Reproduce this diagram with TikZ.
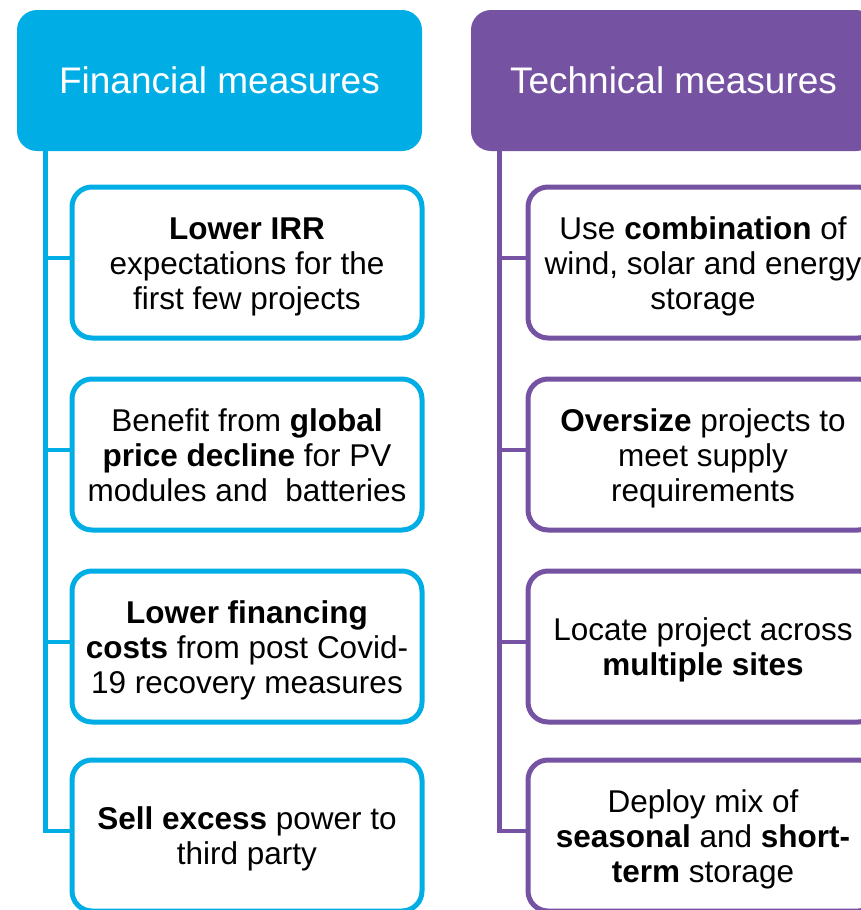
\documentclass[tikz,border=0pt]{standalone}
\usepackage{fontspec}
\setmainfont{Liberation Sans}
\definecolor{fincyan}{RGB}{0,174,229}
\definecolor{techpurple}{RGB}{118,83,162}
\newcommand{\mystrtop}{\rule{0pt}{30pt}}
\newcommand{\mystrbot}{\rule[-7pt]{0pt}{7pt}}
\begin{document}
\begin{tikzpicture}[x=1pt,y=-1pt,
  header/.style={rectangle, rounded corners=20pt, minimum width=405pt, minimum height=141pt,
    inner sep=0pt, text=white, font=\fontsize{37}{44}\selectfont},
  itembox/.style={rectangle, rounded corners=20pt, draw, line width=5pt, fill=white,
    minimum width=350pt, minimum height=151pt, inner sep=0pt, align=center,
    text=black, font=\fontsize{31.5}{35}\selectfont},
  spine/.style={line width=4.5pt}
]
\clip (0,0) rectangle (861,910);
\fill[white] (0,0) rectangle (861,910);

% Financial column
\node[header, fill=fincyan] (FH) at (219.5,80.5) {Financial measures};
\coordinate (ltop) at (45.5,150);
\node[itembox, draw=fincyan] (L1) at (247,262.5) {\mystrtop\textbf{Lower IRR}\\ expectations for the\\ first few projects\mystrbot};
\node[itembox, draw=fincyan] (L2) at (247,454.5) {\mystrtop Benefit from \textbf{global}\\ \textbf{price decline} for PV\\ modules and\ \ batteries\mystrbot};
\node[itembox, draw=fincyan] (L3) at (247,646.5) {\mystrtop\textbf{Lower financing}\\ \textbf{costs} from post Covid-\\ 19 recovery measures\mystrbot};
\node[itembox, draw=fincyan] (L4) at (247,835.5) {\mystrtop\textbf{Sell excess} power to\\ third party\mystrbot};
\foreach \n in {L1,L2,L3,L4}{
  \draw[spine, fincyan] (ltop) |- ([yshift=4.5pt]\n.west);
}

% Technical column
\node[header, fill=techpurple] (TH) at (673.5,80.5) {Technical measures};
\coordinate (rtop) at (499.5,150);
\node[itembox, draw=techpurple] (R1) at (703,262.5) {\mystrtop Use \textbf{combination} of\\ wind, solar and energy\\ storage\mystrbot};
\node[itembox, draw=techpurple] (R2) at (703,454.5) {\mystrtop\textbf{Oversize} projects to\\ meet supply\\ requirements\mystrbot};
\node[itembox, draw=techpurple] (R3) at (703,646.5) {\mystrtop Locate project across\\ \textbf{multiple sites}\mystrbot};
\node[itembox, draw=techpurple] (R4) at (703,835.5) {\mystrtop Deploy mix of\\ \textbf{seasonal} and \textbf{short-}\\ \textbf{term} storage\mystrbot};
\foreach \n in {R1,R2,R3,R4}{
  \draw[spine, techpurple] (rtop) |- ([yshift=4.5pt]\n.west);
}
\end{tikzpicture}
\end{document}
